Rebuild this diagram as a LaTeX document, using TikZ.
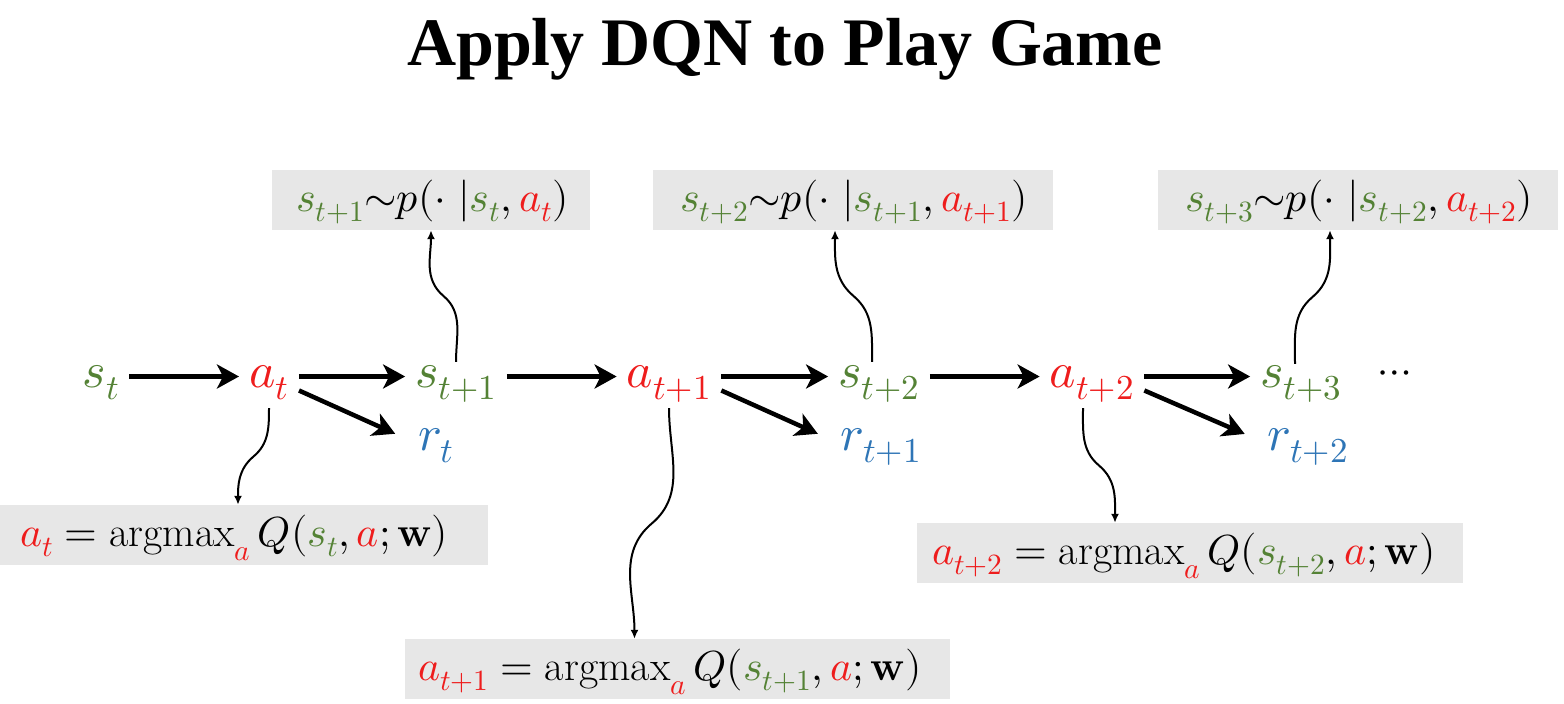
\documentclass[tikz,border=0pt]{standalone}
\usepackage{unicode-math}
\setmathfont{Latin Modern Math}
\newfontfamily\titlefont{Liberation Serif}
\usetikzlibrary{arrows.meta,calc}

\definecolor{sgreen}{HTML}{548235}
\definecolor{ared}{HTML}{EE1D1D}
\definecolor{rblue}{HTML}{2E75B6}
\definecolor{boxgray}{HTML}{E7E7E7}

% coloured symbols: states, actions, rewards
\newcommand{\stS}[1]{{\color{sgreen}s_{#1}}}
\newcommand{\actA}[1]{{\color{ared}a_{#1}}}
\newcommand{\rwR}[1]{{\color{rblue}r_{#1}}}
\newcommand{\redA}{{\color{ared}a}}
\newcommand{\boldW}{\mathbf{w}}

\tikzset{
  var/.style={anchor=base, inner xsep=10pt, inner ysep=0pt,
    text height=33pt, text depth=12pt, font=\fontsize{50}{60}\selectfont},
  gbox/.style={fill=boxgray, minimum height=60pt, inner sep=0pt, align=left,
    text height=30pt, text depth=8pt, font=\fontsize{42}{50}\selectfont},
  flow/.style={-{Stealth[length=22pt,width=24pt,inset=6pt]}, line width=4.5pt},
  link/.style={-{Latex[length=9pt,width=8pt]}, line width=2pt},
}

\begin{document}
\begin{tikzpicture}[x=1pt,y=-1pt]
\useasboundingbox (0,0) rectangle (1564,704);

% title
\node[anchor=base, inner sep=0pt, font=\titlefont\bfseries\fontsize{68}{80}\selectfont]
  (title) at (785,65) {Apply DQN to Play Game};

% trajectory
\node[var] (st)  at (101,387)  {$\stS{t}$};
\node[var] (at)  at (269,387)  {$\actA{t}$};
\node[var] (st1) at (456,387)  {$\stS{t+1}$};
\node[var] (at1) at (669,387)  {$\actA{t+1}$};
\node[var] (st2) at (879,387)  {$\stS{t+2}$};
\node[var] (at2) at (1092,387) {$\actA{t+2}$};
\node[var] (st3) at (1301,387) {$\stS{t+3}$};
\node[anchor=base, inner sep=0pt, font=\fontsize{42}{50}\selectfont]
  (more) at (1395,383) {$\cdots$};

\node[var] (rt)  at (436,450)  {$\rwR{t}$};
\node[var] (rt1) at (881,450)  {$\rwR{t+1}$};
\node[var] (rt2) at (1308,450) {$\rwR{t+2}$};

% transition boxes
\node[gbox, minimum width=318pt, text width=270pt] (p1) at (431,200)
  {\mbox{$\stS{t+1}{\sim}p(\cdot\;|\stS{t},\actA{t})$}};
\node[gbox, minimum width=400pt, text width=346pt] (p2) at (853,200)
  {\mbox{$\stS{t+2}{\sim}p(\cdot\;|\stS{t+1},\actA{t+1})$}};
\node[gbox, minimum width=400pt, text width=346pt] (p3) at (1358,200)
  {\mbox{$\stS{t+3}{\sim}p(\cdot\;|\stS{t+2},\actA{t+2})$}};

% policy boxes
\node[gbox, minimum width=488pt, text width=448pt] (q0) at (244,535)
  {\mbox{$\actA{t} = \operatorname{argmax}_{\redA} Q(\stS{t},\redA;\boldW)$}};
\node[gbox, minimum width=545pt, text width=519pt] (q1) at (677.5,669)
  {\mbox{$\actA{t+1} = \operatorname{argmax}_{\redA} Q(\stS{t+1},\redA;\boldW)$}};
\node[gbox, minimum width=546pt, text width=516pt] (q2) at (1190,553)
  {\mbox{$\actA{t+2} = \operatorname{argmax}_{\redA} Q(\stS{t+2},\redA;\boldW)$}};

% main arrows
\draw[flow] (st) -- (at);
\draw[flow] (at) -- (st1);
\draw[flow] (st1) -- (at1);
\draw[flow] (at1) -- (st2);
\draw[flow] (st2) -- (at2);
\draw[flow] (at2) -- (st3);

\draw[flow, shorten >=14pt] ([yshift=-14pt]at.east)  -- (rt.west);
\draw[flow, shorten >=14pt] ([yshift=-14pt]at1.east) -- (rt1.west);
\draw[flow, shorten >=14pt] ([yshift=-14pt]at2.east) -- (rt2.west);

% curved links to the boxes
\coordinate (u1a) at ([yshift=-8pt]st1.north);
\coordinate (u1b) at (p1.south);
\coordinate (u2a) at ([xshift=-7pt,yshift=-8pt]st2.north);
\coordinate (u2b) at ([xshift=-18pt]p2.south);
\coordinate (u3a) at ([xshift=-6pt,yshift=-10pt]st3.north);
\coordinate (u3b) at ([xshift=-28pt]p3.south);
\coordinate (d1a) at ([yshift=-9pt]at.south);
\coordinate (d1b) at ([xshift=-6pt]q0.north);
\coordinate (d2a) at ([yshift=-9pt]at1.south);
\coordinate (d2b) at ([xshift=-43pt]q1.north);
\coordinate (d3a) at ([xshift=-9pt,yshift=-9pt]at2.south);
\coordinate (d3b) at ([xshift=-75pt]q2.north);

\draw[link] (u1a) to[out=90,in=-40] ($(u1a)!.5!(u1b)$) to[out=140,in=-90] (u1b);
\draw[link] (u2a) to[out=90,in=-40] ($(u2a)!.5!(u2b)$) to[out=140,in=-90] (u2b);
\draw[link] (u3a) to[out=90,in=220] ($(u3a)!.5!(u3b)$) to[out=40,in=-90] (u3b);
\draw[link] (d1a) to[out=-90,in=40] ($(d1a)!.5!(d1b)$) to[out=220,in=90] (d1b);
\draw[link] (d2a) to[out=-90,in=40] ($(d2a)!.5!(d2b)$) to[out=220,in=90] (d2b);
\draw[link] (d3a) to[out=-90,in=140] ($(d3a)!.5!(d3b)$) to[out=-40,in=90] (d3b);
\end{tikzpicture}
\end{document}
